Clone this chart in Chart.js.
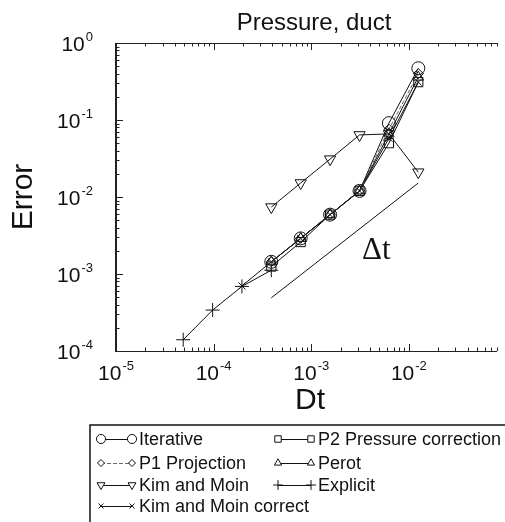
<!DOCTYPE html>
<html><head><meta charset="utf-8">
<script src="https://cdn.jsdelivr.net/npm/chart.js@4/dist/chart.umd.min.js"></script>
<style>html,body{margin:0;padding:0;background:#fff;overflow:hidden}</style>
</head><body>
<canvas id="c" width="505" height="522"></canvas>
<script>
// ---- data ----
const titleText = 'Pressure, duct';
const xAxisTitle = 'Dt';
const yAxisTitle = 'Error';
const xTickExps = [-5, -4, -3, -2];
const yTickExps = [-4, -3, -2, -1, 0];

const dtMain = [3.9e-4, 7.8e-4, 1.56e-3, 3.125e-3, 6.25e-3, 1.25e-2];
const iterative = [1.44e-3, 2.9e-3, 5.9e-3, 0.012, 0.091, 0.47];
const p1Projection = [1.44e-3, 2.9e-3, 5.9e-3, 0.012, 0.076, 0.40];
const kimMoin = [7.4e-3, 0.0152, 0.031, 0.064, 0.066, 0.021];
const dtKimMoinCorrect = [1.95e-4, 3.9e-4, 7.8e-4, 1.56e-3, 3.125e-3, 6.25e-3, 1.25e-2];
const kimMoinCorrect = [7.0e-4, 1.44e-3, 2.9e-3, 5.9e-3, 0.012, 0.058, 0.31];
const p2PressureCorrection = [1.25e-3, 2.6e-3, 5.9e-3, 0.012, 0.05, 0.31];
const perot = [1.44e-3, 2.9e-3, 5.9e-3, 0.012, 0.066, 0.36];
const dtExplicit = [4.88e-5, 9.77e-5, 1.95e-4, 3.9e-4];
const explicit = [1.4e-4, 3.4e-4, 6.9e-4, 1.12e-3];
const dtSlope = [3.9e-4, 1.25e-2];
const slopeRef = [4.9e-4, 0.0152];
const slopeLabel = 'Δt';

const pts = (xs, ys) => xs.map((x, i) => ({x: x, y: ys[i]}));

function ds(label, xs, ys, style, rot, r, dash, color) {
  return {
    label: label, data: pts(xs, ys), showLine: true, tension: 0,
    borderColor: color || '#111', borderWidth: 1, borderDash: dash || [],
    pointStyle: style, pointRotation: rot || 0, pointRadius: r,
    pointBorderColor: '#111', pointBackgroundColor: 'rgba(0,0,0,0)', pointBorderWidth: 1,
    pointHoverRadius: r
  };
}

const datasets = [
  ds('Iterative', dtMain, iterative, 'circle', 0, 6.5),
  ds('P1 Projection', dtMain, p1Projection, 'rectRot', 0, 5, [4, 2], '#666'),
  ds('Kim and Moin', dtMain, kimMoin, 'triangle', 180, 6.5),
  ds('Kim and Moin correct', dtKimMoinCorrect, kimMoinCorrect, 'crossRot', 0, 5),
  ds('P2 Pressure correction', dtMain, p2PressureCorrection, 'rect', 0, 6.5),
  ds('Perot', dtMain, perot, 'triangle', 0, 6),
  ds('Explicit', dtExplicit, explicit, 'cross', 0, 7),
  {label: 'slope', data: pts(dtSlope, slopeRef), showLine: true, borderColor: '#111', borderWidth: 1, pointRadius: 0}
];

const legendCols = [
  [0, 1, 2, 3],
  [4, 5, 6]
];

function marker(ctx, d, x, y, scale) {
  ctx.save();
  ctx.strokeStyle = '#111'; ctx.fillStyle = '#fff'; ctx.lineWidth = 1; ctx.setLineDash([]);
  Chart.helpers.drawPoint(ctx, {pointStyle: d.pointStyle, radius: d.pointRadius * scale, rotation: d.pointRotation, borderWidth: 1}, x, y);
  ctx.restore();
}

function supLabel(ctx, exp, x, y, align) {
  const base = '10', sup = String(exp);
  ctx.font = '21px "Liberation Sans", Arial, sans-serif';
  const wb = ctx.measureText(base).width;
  ctx.font = '13px "Liberation Sans", Arial, sans-serif';
  const ws = ctx.measureText(sup).width;
  const w = wb + ws + 1;
  let x0 = align === 'right' ? x - w : x - w / 2;
  ctx.textAlign = 'left'; ctx.textBaseline = 'alphabetic';
  ctx.font = '21px "Liberation Sans", Arial, sans-serif';
  ctx.fillText(base, x0, y);
  ctx.font = '13px "Liberation Sans", Arial, sans-serif';
  ctx.fillText(sup, x0 + wb + 1, y - 10);
}

const frame = {
  id: 'frame',
  afterDraw(chart) {
    const ctx = chart.ctx, a = chart.chartArea, sx = chart.scales.x, sy = chart.scales.y;
    ctx.save();
    ctx.fillStyle = '#111';
    ctx.strokeStyle = '#222';
    ctx.lineWidth = 1;
    ctx.beginPath();
    ctx.moveTo(a.left, a.top + 0.5); ctx.lineTo(a.right, a.top + 0.5);
    ctx.moveTo(a.left, a.bottom + 0.5); ctx.lineTo(a.right, a.bottom + 0.5);
    ctx.stroke();
    ctx.lineWidth = 2;
    ctx.beginPath(); ctx.moveTo(a.left, a.top); ctx.lineTo(a.left, a.bottom + 1); ctx.stroke();
    ctx.lineWidth = 1;
    ctx.beginPath();
    for (let e = -5; e <= -1; e++) {
      for (let m = 1; m <= 9; m++) {
        const v = m * Math.pow(10, e);
        if (v < sx.min || v > sx.max) continue;
        const px = Math.round(sx.getPixelForValue(v)) + 0.5;
        const len = m === 1 ? 7 : 3.5;
        ctx.moveTo(px, a.bottom); ctx.lineTo(px, a.bottom - len);
        ctx.moveTo(px, a.top); ctx.lineTo(px, a.top + len);
      }
    }
    for (let e = -4; e <= 0; e++) {
      for (let m = 1; m <= 9; m++) {
        const v = m * Math.pow(10, e);
        if (v < sy.min || v > sy.max * 1.0001) continue;
        const py = Math.round(sy.getPixelForValue(v)) + 0.5;
        const len = m === 1 ? 7 : 3.5;
        ctx.moveTo(a.left, py); ctx.lineTo(a.left + len, py);
      }
    }
    ctx.stroke();
    xTickExps.forEach(e => supLabel(ctx, e, sx.getPixelForValue(Math.pow(10, e)), a.bottom + 29, 'center'));
    yTickExps.forEach(e => supLabel(ctx, e, 93, sy.getPixelForValue(Math.pow(10, e)) + 8, 'right'));
    ctx.textAlign = 'center'; ctx.textBaseline = 'alphabetic';
    ctx.font = '24px "Liberation Sans", Arial, sans-serif';
    ctx.fillText(titleText, 314, 30);
    ctx.font = '30px "Liberation Sans", Arial, sans-serif';
    ctx.fillText(xAxisTitle, 310, 409);
    ctx.save();
    ctx.translate(24, 197); ctx.rotate(-Math.PI / 2);
    ctx.textBaseline = 'middle';
    ctx.fillText(yAxisTitle, 0, 0);
    ctx.restore();
    ctx.font = '31px "Liberation Serif", "Times New Roman", serif';
    ctx.textAlign = 'left';
    ctx.fillText(slopeLabel, 362, 259);
    // legend box
    ctx.lineWidth = 1.5; ctx.strokeStyle = '#111';
    ctx.strokeRect(90, 425, 430, 100);
    const colX = [101, 278];
    const rowY = [439, 463, 485, 506];
    const lineLen = [31, 33];
    ctx.font = '18px "Liberation Sans", Arial, sans-serif';
    ctx.textBaseline = 'middle';
    legendCols.forEach((col, ci) => {
      col.forEach((di, ri) => {
        const d = datasets[di];
        const x0 = colX[ci], y = rowY[ri], L = lineLen[ci];
        ctx.save();
        ctx.strokeStyle = d.borderColor; ctx.lineWidth = 1; ctx.setLineDash(d.borderDash || []);
        ctx.beginPath(); ctx.moveTo(x0, y + 0.5); ctx.lineTo(x0 + L, y + 0.5); ctx.stroke();
        ctx.restore();
        marker(ctx, d, x0, y, 0.7);
        marker(ctx, d, x0 + L, y, 0.7);
        ctx.fillStyle = '#111';
        ctx.fillText(d.label, x0 + L + 7, y + 1);
      });
    });
    ctx.restore();
  }
};

new Chart(document.getElementById('c'), {
  type: 'scatter',
  data: {datasets: datasets},
  options: {
    responsive: false, animation: false, devicePixelRatio: 1,
    layout: {padding: {left: 116, top: 43, right: 0, bottom: 171}},
    plugins: {legend: {display: false}, tooltip: {enabled: false}, title: {display: false}},
    scales: {
      x: {type: 'logarithmic', min: 1e-5, max: 0.08, display: false},
      y: {type: 'logarithmic', min: 1e-4, max: 1, display: false}
    }
  },
  plugins: [frame]
});
</script>
</body></html>
